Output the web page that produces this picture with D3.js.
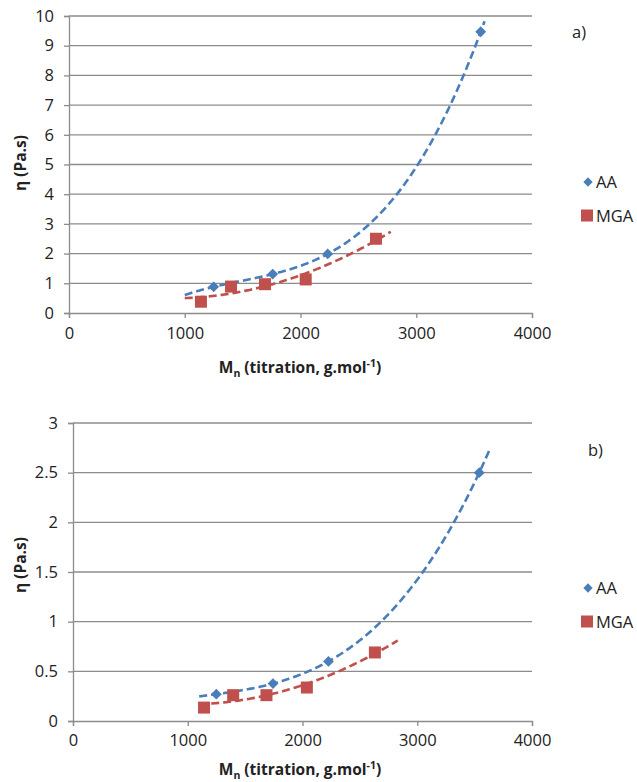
<!DOCTYPE html>
<html>
<head>
<meta charset="utf-8">
<script src="https://cdn.jsdelivr.net/npm/d3@7"></script>
<style>
  html, body { margin: 0; padding: 0; background: #fff; }
  svg text { font-family: "Open Sans", "Liberation Sans", sans-serif; fill: #222; }
</style>
</head>
<body>
<svg id="chart" width="637" height="782"></svg>
<script>
// ---- Data ----
const seriesNames = ["AA", "MGA"];
const xTicks = [0, 1000, 2000, 3000, 4000];

// Panel a)
const aAA_x = [1250, 1760, 2235, 3557];
const aAA_y = [0.88, 1.31, 1.99, 9.47];
const aMGA_x = [1140, 1400, 1693, 2045, 2652];
const aMGA_y = [0.38, 0.89, 0.97, 1.13, 2.5];
const aYTicks = [0, 1, 2, 3, 4, 5, 6, 7, 8, 9, 10];
const aTrendAA = [1000, 3595];
const aTrendMGA = [1000, 2780];

// Panel b)
const bAA_x = [1249, 1743, 2226, 3540];
const bAA_y = [0.27, 0.377, 0.6, 2.5];
const bMGA_x = [1142, 1396, 1686, 2038, 2631];
const bMGA_y = [0.135, 0.26, 0.26, 0.337, 0.69];
const bYTicks = [0, 0.5, 1, 1.5, 2, 2.5, 3];
const bTrendAA = [1100, 3630];
const bTrendMGA = [1100, 2830];

// trendline polynomial order per series
const trendOrder = { AA: 3, MGA: 2 };

const colors = { AA: "#4a7ebb", MGA: "#c0504d" };

// least squares polynomial fit (Excel polynomial trendline)
function polyFit(xs, ys, order) {
  const xm = d3.mean(xs), sc = 1000;
  const u = xs.map(x => (x - xm) / sc);
  const m = order + 1;
  const A = [];
  for (let r = 0; r < m; r++) {
    const row = [];
    for (let c = 0; c < m; c++) row.push(d3.sum(u, v => Math.pow(v, r + c)));
    row.push(d3.sum(u, (v, i) => ys[i] * Math.pow(v, r)));
    A.push(row);
  }
  for (let c = 0; c < m; c++) {
    let p = c;
    for (let r = c + 1; r < m; r++) if (Math.abs(A[r][c]) > Math.abs(A[p][c])) p = r;
    [A[c], A[p]] = [A[p], A[c]];
    for (let r = c + 1; r < m; r++) {
      const f = A[r][c] / A[c][c];
      for (let k = c; k <= m; k++) A[r][k] -= f * A[c][k];
    }
  }
  const b = new Array(m).fill(0);
  for (let r = m - 1; r >= 0; r--) {
    let s = A[r][m];
    for (let k = r + 1; k < m; k++) s -= A[r][k] * b[k];
    b[r] = s / A[r][r];
  }
  return x => { const t = (x - xm) / sc; return b.reduce((acc, c, k) => acc + c * Math.pow(t, k), 0); };
}

const svg = d3.select("#chart");
const FS = 16.5;

function panel(cfg) {
  const x = d3.scaleLinear().domain([0, 4000]).range([cfg.left, 532]);
  const y = d3.scaleLinear().domain([0, cfg.yMax]).range([cfg.bottom, cfg.top]);
  const g = svg.append("g");

  // gridlines
  g.selectAll(".grid").data(cfg.yTicks.filter(d => d > 0)).join("line")
    .attr("x1", cfg.left).attr("x2", 532)
    .attr("y1", d => y(d)).attr("y2", d => y(d))
    .attr("stroke", "#8c8c8c").attr("stroke-width", 1.3);

  // y axis
  const ya = g.append("g").attr("transform", `translate(${cfg.left},0)`)
    .call(d3.axisLeft(y).tickValues(cfg.yTicks).tickSize(5).tickPadding(10)
      .tickFormat(d => String(d)));
  ya.select(".domain").attr("stroke", "#8c8c8c").attr("stroke-width", 1.3);
  ya.selectAll(".tick line").attr("stroke", "#8c8c8c").attr("stroke-width", 1.3);
  ya.selectAll("text").attr("font-size", FS).attr("fill", "#222")
    .attr("font-family", '"Open Sans", sans-serif');

  // x axis
  const xa = g.append("g").attr("transform", `translate(0,${cfg.bottom})`)
    .call(d3.axisBottom(x).tickValues(xTicks).tickSize(5).tickPadding(cfg.xPad)
      .tickFormat(d => String(d)));
  xa.select(".domain").attr("stroke", "#8c8c8c").attr("stroke-width", 1.3);
  xa.selectAll(".tick line").attr("stroke", "#8c8c8c").attr("stroke-width", 1.3);
  xa.selectAll("text").attr("font-size", FS).attr("fill", "#222")
    .attr("font-family", '"Open Sans", sans-serif');

  // trend lines
  const line = d3.line().x(d => x(d[0])).y(d => y(d[1]));
  [["AA", cfg.aaX, cfg.aaY, cfg.trAA], ["MGA", cfg.mgX, cfg.mgY, cfg.trMGA]].forEach(([name, xs, ys, ext]) => {
    const f = polyFit(xs, ys, trendOrder[name]);
    const pts = d3.range(ext[0], ext[1] + 1, 10).map(v => [v, f(v)]);
    g.append("path").attr("d", line(pts)).attr("fill", "none")
      .attr("stroke", colors[name]).attr("stroke-width", 2.6)
      .attr("stroke-dasharray", "8,4");
  });

  // markers
  g.selectAll(".aa").data(cfg.aaX.map((v, i) => [v, cfg.aaY[i]])).join("path")
    .attr("d", d3.symbol(d3.symbolDiamond2, 75)())
    .attr("transform", d => `translate(${x(d[0])},${y(d[1])})`)
    .attr("fill", colors.AA);
  g.selectAll(".mga").data(cfg.mgX.map((v, i) => [v, cfg.mgY[i]])).join("rect")
    .attr("x", d => x(d[0]) - 6).attr("y", d => y(d[1]) - 6)
    .attr("width", 12).attr("height", 12)
    .attr("fill", colors.MGA);

  // y title
  g.append("text").attr("transform", `translate(${cfg.ytX},${cfg.ytY}) rotate(-90)`)
    .attr("text-anchor", "middle").attr("font-size", 15.5).attr("font-weight", "bold")
    .text("η (Pa.s)");

  // x title
  const xt = g.append("text").attr("x", 300).attr("y", cfg.xtY).attr("text-anchor", "middle")
    .attr("font-size", 15.5).attr("font-weight", "bold");
  xt.append("tspan").text("M");
  xt.append("tspan").attr("font-size", 10.5).attr("dy", 4).text("n");
  xt.append("tspan").attr("dy", -4).text(" (titration, g.mol");
  xt.append("tspan").attr("font-size", 10.5).attr("dy", -6).text("-1");
  xt.append("tspan").attr("dy", 6).text(")");

  // panel label
  g.append("text").attr("x", cfg.lblX).attr("y", cfg.lblY).attr("font-size", 16.5).text(cfg.label);

  // legend
  const lg = g.append("g");
  lg.append("path").attr("d", d3.symbol(d3.symbolDiamond2, 55)())
    .attr("transform", `translate(588,${cfg.legY})`).attr("fill", colors.AA);
  lg.append("text").attr("x", 596).attr("y", cfg.legY + 6).attr("font-size", FS).text(seriesNames[0]);
  lg.append("rect").attr("x", 581).attr("y", cfg.legY + 27.5).attr("width", 12).attr("height", 12)
    .attr("fill", colors.MGA);
  lg.append("text").attr("x", 596).attr("y", cfg.legY + 39.5).attr("font-size", FS).text(seriesNames[1]);
}

panel({
  left: 69, top: 16, bottom: 313, yMax: 10, yTicks: aYTicks, xPad: 9,
  aaX: aAA_x, aaY: aAA_y, mgX: aMGA_x, mgY: aMGA_y, trAA: aTrendAA, trMGA: aTrendMGA,
  ytX: 26, ytY: 163, xtY: 373, label: "a)", lblX: 572, lblY: 38, legY: 182
});
panel({
  left: 73, top: 423, bottom: 721, yMax: 3, yTicks: bYTicks, xPad: 8,
  aaX: bAA_x, aaY: bAA_y, mgX: bMGA_x, mgY: bMGA_y, trAA: bTrendAA, trMGA: bTrendMGA,
  ytX: 26, ytY: 565, xtY: 775, label: "b)", lblX: 588, lblY: 456, legY: 588
});
</script>
</body>
</html>
